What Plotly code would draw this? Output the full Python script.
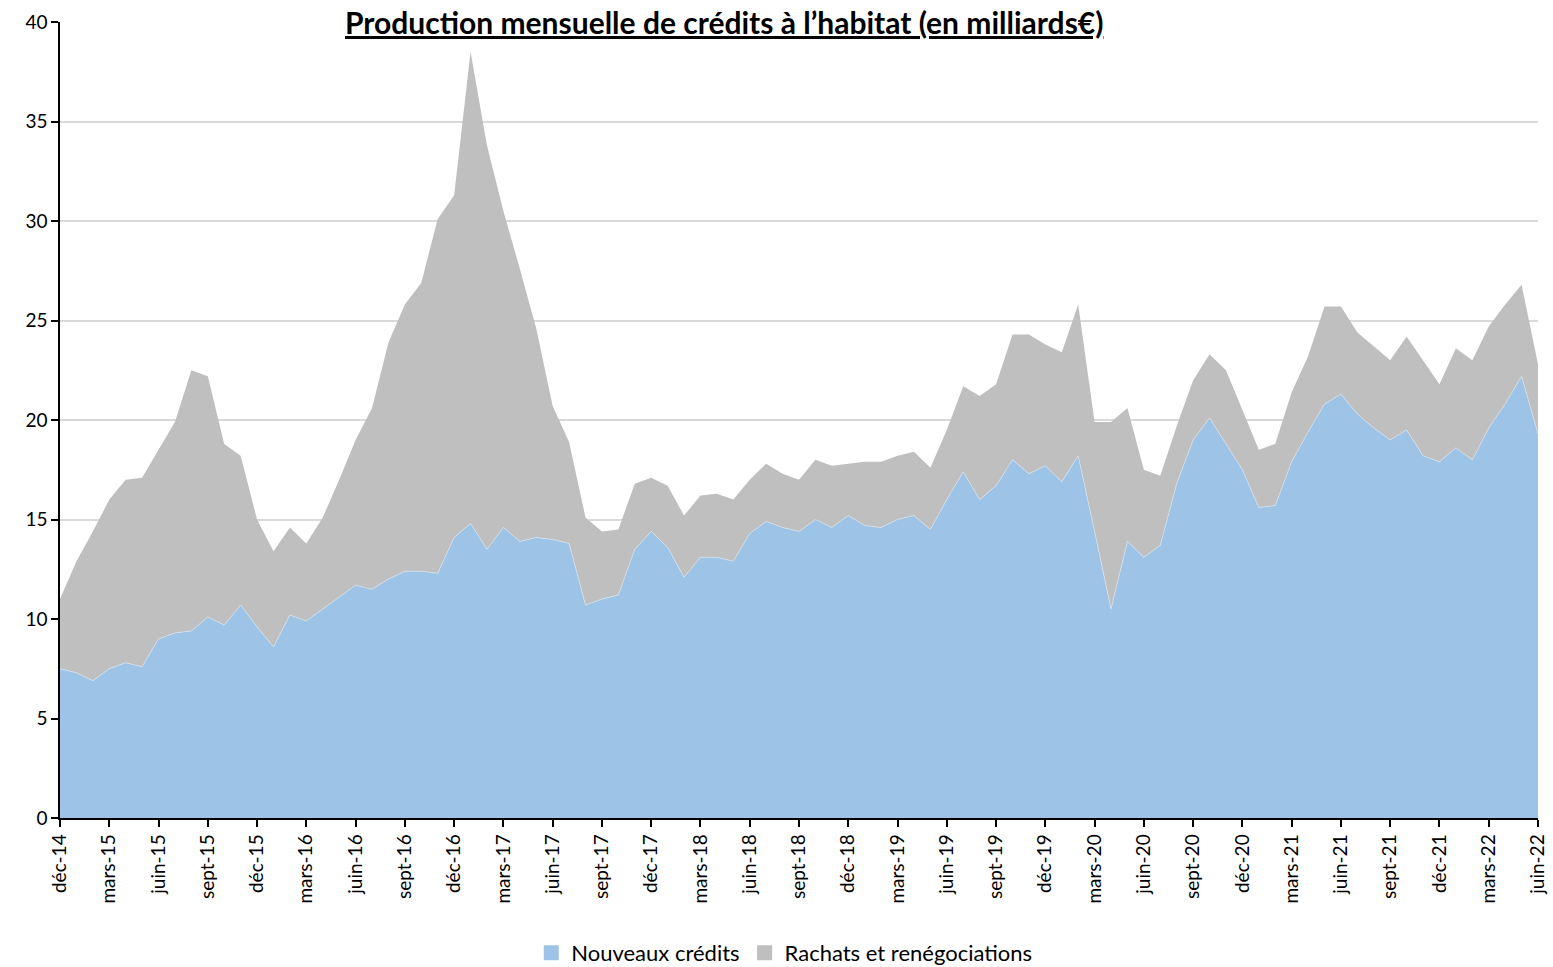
import plotly.graph_objects as go

# Month categories (déc-14 .. juin-22)
mois = ["janv", "févr", "mars", "avr", "mai", "juin", "juil", "août", "sept", "oct", "nov", "déc"]
categories = []
for k in range(91):
    m = (11 + k) % 12
    yy = 14 + (11 + k) // 12
    categories.append(f"{mois[m]}-{yy:02d}")

# Nouveaux crédits (Md€)
nouveaux = [7.5, 7.3, 6.9, 7.5, 7.8, 7.6, 9.0, 9.3, 9.4, 10.1, 9.7, 10.7, 9.6, 8.6, 10.2, 9.9,
            10.5, 11.1, 11.7, 11.5, 12.0, 12.4, 12.4, 12.3, 14.1, 14.8, 13.5, 14.6, 13.9, 14.1,
            14.0, 13.8, 10.7, 11.0, 11.2, 13.5, 14.4, 13.6, 12.1, 13.1, 13.1, 12.9, 14.3, 14.9,
            14.6, 14.4, 15.0, 14.6, 15.2, 14.7, 14.6, 15.0, 15.2, 14.5, 16.0, 17.4, 16.0, 16.7,
            18.0, 17.3, 17.7, 16.9, 18.2, 14.4, 10.5, 13.9, 13.1, 13.7, 16.8, 19.0, 20.1, 18.8,
            17.5, 15.6, 15.7, 17.9, 19.4, 20.8, 21.3, 20.3, 19.6, 19.0, 19.5, 18.2, 17.9, 18.6,
            18.0, 19.6, 20.8, 22.2, 19.3]

# Total production (Md€)
total = [11.0, 12.9, 14.4, 16.0, 17.0, 17.1, 18.5, 19.9, 22.5, 22.2, 18.8, 18.2, 15.0, 13.4,
         14.6, 13.8, 15.1, 17.0, 19.0, 20.6, 23.9, 25.8, 26.9, 30.1, 31.3, 38.5, 33.8, 30.5,
         27.6, 24.6, 20.7, 18.9, 15.1, 14.4, 14.5, 16.8, 17.1, 16.7, 15.2, 16.2, 16.3, 16.0,
         17.0, 17.8, 17.3, 17.0, 18.0, 17.7, 17.8, 17.9, 17.9, 18.2, 18.4, 17.6, 19.5, 21.7,
         21.2, 21.8, 24.3, 24.3, 23.8, 23.4, 25.8, 19.9, 19.9, 20.6, 17.5, 17.2, 19.7, 22.0,
         23.3, 22.5, 20.5, 18.5, 18.8, 21.4, 23.2, 25.7, 25.7, 24.4, 23.7, 23.0, 24.2, 23.0,
         21.8, 23.6, 23.0, 24.7, 25.8, 26.8, 22.8]

rachats = [round(t - n, 2) for t, n in zip(total, nouveaux)]

tick_labels = categories[::3]

series_names = ["Nouveaux crédits", "Rachats et renégociations"]
series_colors = ["#9DC3E6", "#BFBFBF"]

FONT = "Lato"

fig = go.Figure()
fig.add_trace(go.Scatter(
    x=categories, y=nouveaux, name=series_names[0], mode="lines",
    stackgroup="one", line=dict(width=0.6, color="#dbe7f3"), fillcolor=series_colors[0],
    showlegend=False, hoverinfo="x+y"))
fig.add_trace(go.Scatter(
    x=categories, y=rachats, name=series_names[1], mode="lines",
    stackgroup="one", line=dict(width=0), fillcolor=series_colors[1],
    showlegend=False, hoverinfo="x+y"))
# legend-only square markers
for nm, col in zip(series_names, series_colors):
    fig.add_trace(go.Scatter(
        x=[None], y=[None], name=nm, mode="markers",
        marker=dict(symbol="square", size=15, color=col), showlegend=True))

fig.update_layout(
    width=1553, height=967,
    margin=dict(l=60, r=15, t=22, b=149),
    paper_bgcolor="white", plot_bgcolor="white",
    font=dict(family=FONT, size=19, color="black"),
    showlegend=True,
    legend=dict(orientation="h", x=0.505, xanchor="center", xref="container",
                y=14 / 967, yanchor="middle", yref="container",
                font=dict(size=22, family=FONT), itemwidth=30, traceorder="normal",
                tracegroupgap=0),
    annotations=[dict(
        text="<b><u>Production mensuelle de crédits à l’habitat (en milliards€)</u></b>",
        xref="paper", yref="paper", x=0.449, y=1.0, xanchor="center", yanchor="middle",
        showarrow=False, font=dict(size=30, family=FONT, color="black"))],
)

fig.update_xaxes(
    type="category", range=[0, len(categories) - 1], automargin=False,
    tickmode="array", tickvals=tick_labels, ticktext=tick_labels,
    tickangle=-90, ticks="outside", ticklen=7, tickcolor="black", tickwidth=1.5,
    showline=True, linecolor="black", linewidth=1.5, showgrid=False,
    tickfont=dict(size=19, family=FONT))
fig.update_yaxes(
    range=[0, 40], dtick=5, automargin=False,
    ticks="outside", ticklen=7, tickcolor="black", tickwidth=1.5,
    showline=True, linecolor="black", linewidth=1.5,
    showgrid=True, gridcolor="#d9d9d9", gridwidth=1.5, zeroline=False,
    tickfont=dict(size=19, family=FONT))

fig.write_html("out.html", config={"displayModeBar": False},
               post_script="document.body.style.margin='0';")
